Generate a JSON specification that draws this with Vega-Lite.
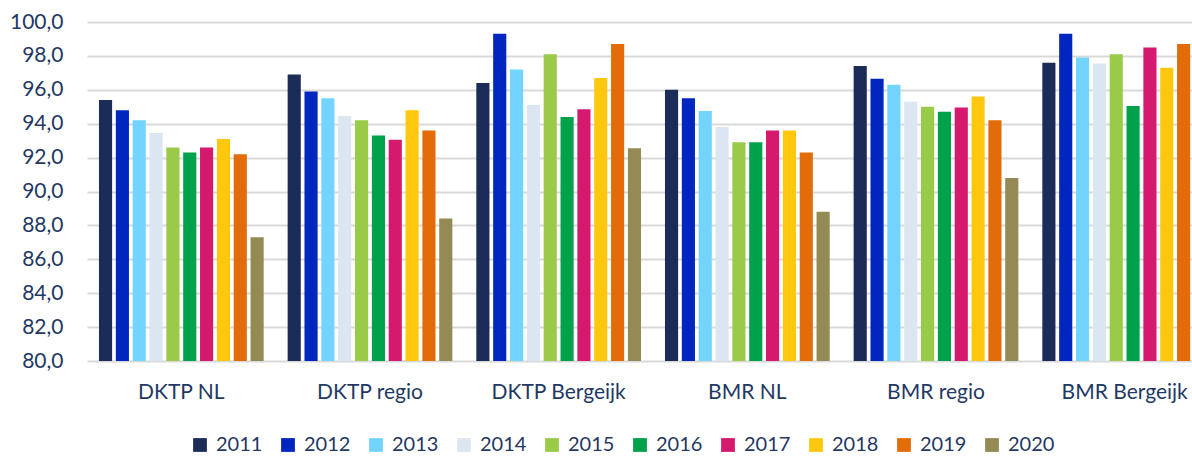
{
  "$schema": "https://vega.github.io/schema/vega-lite/v6.json",
  "autosize": "none",
  "padding": {"left": 87, "top": 22, "right": 0, "bottom": 95},
  "width": 1132,
  "height": 339,
  "background": "white",
  "data": {
    "values": [
      {"group": "DKTP NL", "year": "2011", "value": 95.4},
      {"group": "DKTP NL", "year": "2012", "value": 94.8},
      {"group": "DKTP NL", "year": "2013", "value": 94.2},
      {"group": "DKTP NL", "year": "2014", "value": 93.45},
      {"group": "DKTP NL", "year": "2015", "value": 92.6},
      {"group": "DKTP NL", "year": "2016", "value": 92.3},
      {"group": "DKTP NL", "year": "2017", "value": 92.6},
      {"group": "DKTP NL", "year": "2018", "value": 93.1},
      {"group": "DKTP NL", "year": "2019", "value": 92.2},
      {"group": "DKTP NL", "year": "2020", "value": 87.3},
      {"group": "DKTP regio", "year": "2011", "value": 96.9},
      {"group": "DKTP regio", "year": "2012", "value": 95.9},
      {"group": "DKTP regio", "year": "2013", "value": 95.5},
      {"group": "DKTP regio", "year": "2014", "value": 94.45},
      {"group": "DKTP regio", "year": "2015", "value": 94.2},
      {"group": "DKTP regio", "year": "2016", "value": 93.3},
      {"group": "DKTP regio", "year": "2017", "value": 93.05},
      {"group": "DKTP regio", "year": "2018", "value": 94.8},
      {"group": "DKTP regio", "year": "2019", "value": 93.6},
      {"group": "DKTP regio", "year": "2020", "value": 88.4},
      {"group": "DKTP Bergeijk", "year": "2011", "value": 96.4},
      {"group": "DKTP Bergeijk", "year": "2012", "value": 99.3},
      {"group": "DKTP Bergeijk", "year": "2013", "value": 97.2},
      {"group": "DKTP Bergeijk", "year": "2014", "value": 95.1},
      {"group": "DKTP Bergeijk", "year": "2015", "value": 98.1},
      {"group": "DKTP Bergeijk", "year": "2016", "value": 94.4},
      {"group": "DKTP Bergeijk", "year": "2017", "value": 94.85},
      {"group": "DKTP Bergeijk", "year": "2018", "value": 96.7},
      {"group": "DKTP Bergeijk", "year": "2019", "value": 98.7},
      {"group": "DKTP Bergeijk", "year": "2020", "value": 92.55},
      {"group": "BMR NL", "year": "2011", "value": 96.0},
      {"group": "BMR NL", "year": "2012", "value": 95.5},
      {"group": "BMR NL", "year": "2013", "value": 94.75},
      {"group": "BMR NL", "year": "2014", "value": 93.8},
      {"group": "BMR NL", "year": "2015", "value": 92.9},
      {"group": "BMR NL", "year": "2016", "value": 92.9},
      {"group": "BMR NL", "year": "2017", "value": 93.6},
      {"group": "BMR NL", "year": "2018", "value": 93.6},
      {"group": "BMR NL", "year": "2019", "value": 92.3},
      {"group": "BMR NL", "year": "2020", "value": 88.8},
      {"group": "BMR regio", "year": "2011", "value": 97.4},
      {"group": "BMR regio", "year": "2012", "value": 96.65},
      {"group": "BMR regio", "year": "2013", "value": 96.3},
      {"group": "BMR regio", "year": "2014", "value": 95.3},
      {"group": "BMR regio", "year": "2015", "value": 95.0},
      {"group": "BMR regio", "year": "2016", "value": 94.7},
      {"group": "BMR regio", "year": "2017", "value": 94.95},
      {"group": "BMR regio", "year": "2018", "value": 95.6},
      {"group": "BMR regio", "year": "2019", "value": 94.2},
      {"group": "BMR regio", "year": "2020", "value": 90.8},
      {"group": "BMR Bergeijk", "year": "2011", "value": 97.6},
      {"group": "BMR Bergeijk", "year": "2012", "value": 99.3},
      {"group": "BMR Bergeijk", "year": "2013", "value": 97.9},
      {"group": "BMR Bergeijk", "year": "2014", "value": 97.55},
      {"group": "BMR Bergeijk", "year": "2015", "value": 98.1},
      {"group": "BMR Bergeijk", "year": "2016", "value": 95.05},
      {"group": "BMR Bergeijk", "year": "2017", "value": 98.5},
      {"group": "BMR Bergeijk", "year": "2018", "value": 97.3},
      {"group": "BMR Bergeijk", "year": "2019", "value": 98.7},
      {"group": "BMR Bergeijk", "year": "2020", "value": 96.3}
    ]
  },
  "mark": {"type": "bar", "clip": true},
  "encoding": {
    "x": {
      "field": "group",
      "type": "nominal",
      "sort": ["DKTP NL", "DKTP regio", "DKTP Bergeijk", "BMR NL", "BMR regio", "BMR Bergeijk"],
      "scale": {"paddingInner": 0.127, "paddingOuter": 0.0635},
      "axis": {
        "title": null,
        "labelAngle": 0,
        "ticks": false,
        "domain": false,
        "labelFont": "Lato",
        "labelFontSize": 21,
        "labelColor": "#1F3864",
        "labelPadding": 20
      }
    },
    "xOffset": {
      "field": "year",
      "type": "nominal",
      "scale": {"paddingInner": 0.22, "paddingOuter": 0}
    },
    "y": {
      "field": "value",
      "type": "quantitative",
      "scale": {"domain": [80, 100], "nice": false, "zero": false},
      "axis": {
        "title": null,
        "values": [80, 82, 84, 86, 88, 90, 92, 94, 96, 98, 100],
        "labelExpr": "replace(format(datum.value, '.1f'), '.', ',')",
        "ticks": false,
        "domain": false,
        "grid": true,
        "gridColor": "#D9D9D9",
        "gridWidth": 2,
        "labelFont": "Lato",
        "labelFontSize": 21,
        "labelColor": "#1F3864",
        "labelPadding": 24
      }
    },
    "color": {
      "field": "year",
      "type": "nominal",
      "scale": {
        "domain": ["2011", "2012", "2013", "2014", "2015", "2016", "2017", "2018", "2019", "2020"],
        "range": ["#1B2C58", "#0026C0", "#73D5FF", "#DCE6F2", "#99CA48", "#00A14B", "#D4196F", "#FFC80F", "#E36C0A", "#948A54"]
      },
      "legend": {
        "title": null,
        "orient": "none",
        "direction": "horizontal",
        "columns": 10,
        "legendX": 103,
        "legendY": 413,
        "symbolType": "square",
        "symbolSize": 190,
        "symbolStrokeWidth": 0,
        "labelFont": "Lato",
        "labelFontSize": 20,
        "labelColor": "#1F3864",
        "labelOffset": 6,
        "columnPadding": 15
      }
    }
  },
  "config": {
    "view": {"stroke": null}
  }
}
